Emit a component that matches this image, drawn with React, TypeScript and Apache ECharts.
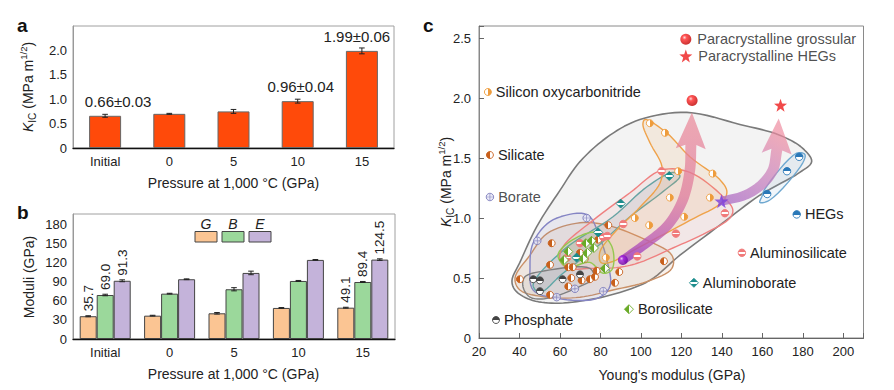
import React, { useEffect, useRef } from 'react';
import * as echarts from 'echarts';

// ---------- Panel a ----------
const pressureCats = ['Initial', '0', '5', '10', '15'];
const kicValues = [0.66, 0.7, 0.75, 0.96, 1.99];
const kicErrors = [0.03, 0.01, 0.04, 0.04, 0.06];
const kicLabels = ['0.66±0.03', '', '', '0.96±0.04', '1.99±0.06'];

// ---------- Panel b ----------
const shearG = [35.7, 36.6, 40.3, 48.7, 49.1];
const bulkB = [69.0, 71.1, 78.0, 91.0, 89.4];
const youngE = [91.3, 93.7, 103.6, 124.0, 124.5];
const errG = [0.8, 0.6, 1.2, 0.6, 0.7];
const errB = [1.2, 0.6, 2.5, 0.8, 0.8];
const errE = [1.5, 0.6, 2.8, 0.6, 1.2];
const labelsG = ['35.7', '', '', '', '49.1'];
const labelsB = ['69.0', '', '', '', '89.4'];
const labelsE = ['91.3', '', '', '', '124.5'];

// ---------- Panel c (Young's modulus GPa, K_IC) ----------
const silicate = [[40.2, 0.49], [55.9, 0.79], [55.1, 0.61], [64.1, 0.59], [66.3, 0.59], [65.6, 0.5], [64.1, 0.43], [55.1, 0.36], [69.9, 0.71], [72.3, 0.66], [70.7, 0.48], [74.8, 0.49], [77.3, 0.51], [78.1, 0.56], [83.9, 0.94], [78.9, 0.82], [87.2, 0.46], [89.3, 0.55], [111.4, 0.64]];
const siliconOxy = [[104.4, 1.79], [111.9, 1.71], [118.4, 1.39], [135.4, 1.37], [114.3, 1.17], [134.1, 1.17], [97.0, 1.0], [104.1, 0.94], [121.4, 1.01], [82.7, 0.67]];
const aluminosilicate = [[110.2, 1.39], [141.5, 1.04], [91.3, 0.95], [117.3, 0.87], [98.2, 0.68], [81.4, 0.84], [83.4, 0.85], [69.9, 0.79], [63.6, 0.67]];
const aluminoborate = [[114.0, 1.35], [90.0, 1.12], [78.9, 0.88], [68.2, 0.67]];
const borosilicate = [[64.1, 0.72], [72.8, 0.79], [75.6, 0.81], [76.8, 0.75], [73.5, 0.71], [71.5, 0.66], [82.2, 0.58], [62.0, 0.65]];
const phosphate = [[46.8, 0.49], [50.1, 0.48], [50.1, 0.39], [61.3, 0.49], [69.9, 0.53]];
const borate = [[48.8, 0.81], [73.2, 1.0], [58.4, 0.34], [67.4, 0.41], [81.4, 0.39]];
const hegs = [[162.4, 1.2], [172.2, 1.39], [178.2, 1.51]];
const grossular = [[125.3, 1.98]];
const hegStar = [[169.0, 1.94]];
const startSphere = [[91.1, 0.65]];
const startStar = [[139.8, 1.14]];

// label anchors (data space)
const anchorSiliconOxy = [24.4, 2.05];
const anchorSilicate = [25.4, 1.525];
const anchorBorate = [25.4, 1.175];
const anchorPhosphate = [28.4, 0.15];
const anchorBorosilicate = [94.1, 0.24];
const anchorAluminoborate = [126.2, 0.46];
const anchorAluminosilicate = [149.9, 0.71];
const anchorHEGs = [177.0, 1.03];
const anchorLegendGrossular = [122.2, 2.49];
const anchorLegendHEGStar = [122.2, 2.35];

// enclosing hulls (data space)
const hullAll = [[36.3, 0.48], [40.2, 0.63], [48.6, 0.93], [60.0, 1.23], [69.9, 1.47], [84.7, 1.69], [99.5, 1.82], [122.7, 1.88], [148.9, 1.78], [168.6, 1.69], [180.0, 1.58], [184.4, 1.47], [178.5, 1.38], [158.8, 1.19], [139.0, 0.94], [119.3, 0.69], [104.4, 0.48], [89.6, 0.38], [74.8, 0.32], [57.5, 0.29], [45.2, 0.32], [37.8, 0.4]];
const hullSilicate = [[37.8, 0.5], [45.2, 0.69], [53.6, 0.87], [69.9, 0.96], [83.2, 0.94], [99.5, 0.84], [115.3, 0.69], [115.3, 0.58], [103.0, 0.47], [86.2, 0.4], [69.9, 0.34], [53.6, 0.34], [40.2, 0.4]];
const hullBorate = [[46.7, 0.79], [55.1, 0.97], [69.9, 1.04], [74.8, 1.01], [78.8, 0.88], [83.2, 0.65], [84.7, 0.43], [78.3, 0.33], [58.5, 0.33], [46.7, 0.4], [45.2, 0.59]];
const hullAluminoborate = [[46.7, 0.44], [61.5, 0.73], [86.2, 1.01], [103.0, 1.26], [115.8, 1.38], [119.3, 1.35], [110.9, 1.22], [94.6, 1.01], [78.3, 0.76], [61.5, 0.54], [50.1, 0.38]];
const hullAluminosilicate = [[60.0, 0.65], [61.5, 0.76], [76.3, 0.98], [94.6, 1.21], [110.4, 1.4], [124.2, 1.38], [140.5, 1.18], [145.4, 1.07], [144.0, 1.0], [132.6, 0.88], [115.8, 0.75], [99.5, 0.63], [89.6, 0.59], [74.8, 0.58], [64.0, 0.58]];
const hullSiliconOxy = [[102.0, 1.82], [112.7, 1.71], [124.2, 1.51], [139.0, 1.32], [142.5, 1.22], [140.0, 1.13], [124.2, 0.98], [99.5, 0.76], [84.7, 0.63], [80.2, 0.63], [79.8, 0.72], [88.1, 0.9], [99.5, 1.09], [109.4, 1.29], [110.4, 1.43], [104.4, 1.63], [101.0, 1.78]];
const hullBorosilicate = [[59.0, 0.69], [66.4, 0.82], [78.8, 0.88], [85.7, 0.76], [85.7, 0.57], [81.2, 0.54], [74.8, 0.63], [63.5, 0.59]];
const hullPhosphate = [[42.7, 0.51], [52.6, 0.56], [74.8, 0.58], [76.8, 0.5], [69.9, 0.43], [53.6, 0.33], [45.2, 0.34], [41.7, 0.43]];
const hullHEGs = [[159.8, 1.18], [161.2, 1.24], [177.0, 1.54], [181.0, 1.53], [180.0, 1.46], [163.7, 1.15], [158.8, 1.13]];

// arrows (data space; last point is tip, the one before is head base)
const arrowGrossular = [[91.1, 0.65], [101.9, 0.78], [113.3, 0.94], [120.7, 1.15], [124.2, 1.4], [124.7, 1.61], [125.2, 1.88]];
const arrowHEG = [[140.0, 1.14], [151.4, 1.19], [159.8, 1.28], [165.2, 1.4], [167.2, 1.57], [168.1, 1.83]];

const FONT = '"Liberation Sans", Arial, sans-serif';
const TXT = '#222';

const hulls = [hullAll, hullSilicate, hullBorate, hullAluminoborate, hullAluminosilicate, hullSiliconOxy, hullBorosilicate, hullPhosphate, hullHEGs];
const hullStyles = [
  { fill: 'rgba(200,200,200,0.22)', stroke: '#7a7a7a', lw: 1.6 },
  { fill: 'rgba(205,150,100,0.13)', stroke: '#c99066', lw: 1.4 },
  { fill: 'rgba(130,130,200,0.10)', stroke: '#8585c4', lw: 1.4 },
  { fill: 'rgba(90,130,150,0.13)', stroke: '#58a8a8', lw: 1.4 },
  { fill: 'rgba(240,130,130,0.10)', stroke: '#ef8080', lw: 1.4 },
  { fill: 'rgba(240,165,80,0.13)', stroke: '#efa24a', lw: 1.4 },
  { fill: 'rgba(150,200,80,0.12)', stroke: '#95c850', lw: 1.4 },
  { fill: 'rgba(160,160,160,0.12)', stroke: '#808080', lw: 1.4 },
  { fill: 'rgba(120,170,210,0.12)', stroke: '#6fa8d0', lw: 1.4 },
];
const kicLabelOffsets = [[13, 0], [0, 0], [0, 0], [3, 0], [-5, 0]];

function fill(c: string, mode: string) {
  const W = '#ffffff';
  if (mode === 'left') return new echarts.graphic.LinearGradient(0, 0, 1, 0, [{ offset: 0, color: c }, { offset: 0.5, color: c }, { offset: 0.5, color: W }, { offset: 1, color: W }]);
  if (mode === 'right') return new echarts.graphic.LinearGradient(0, 0, 1, 0, [{ offset: 0, color: W }, { offset: 0.5, color: W }, { offset: 0.5, color: c }, { offset: 1, color: c }]);
  if (mode === 'top') return new echarts.graphic.LinearGradient(0, 0, 0, 1, [{ offset: 0, color: c }, { offset: 0.52, color: c }, { offset: 0.52, color: W }, { offset: 1, color: W }]);
  if (mode === 'stripe') return new echarts.graphic.LinearGradient(0, 0, 0, 1, [{ offset: 0, color: c }, { offset: 0.38, color: c }, { offset: 0.38, color: W }, { offset: 0.62, color: W }, { offset: 0.62, color: c }, { offset: 1, color: c }]);
  return c;
}

function starPath() {
  const pts: string[] = [];
  for (let k = 0; k < 10; k++) {
    const r = k % 2 === 0 ? 10 : 4;
    const a = -Math.PI / 2 + (k * Math.PI) / 5;
    pts.push(`${(10 + r * Math.cos(a)).toFixed(2)},${(10 + r * Math.sin(a)).toFixed(2)}`);
  }
  return 'path://M' + pts.join(' L') + ' Z';
}
const STAR = starPath();
const CROSS = 'path://M4.4,0 L5.6,0 L5.6,4.4 L10,4.4 L10,5.6 L5.6,5.6 L5.6,10 L4.4,10 L4.4,5.6 L0,5.6 L0,4.4 L4.4,4.4 Z';

// centripetal Catmull-Rom segment sampling
function crSegment(P0: number[], P1: number[], P2: number[], P3: number[], steps: number, out: number[][]) {
  const d = (a: number[], b: number[]) => Math.max(Math.pow(Math.hypot(b[0] - a[0], b[1] - a[1]), 0.5), 1e-4);
  const t0 = 0, t1 = t0 + d(P0, P1), t2 = t1 + d(P1, P2), t3 = t2 + d(P2, P3);
  const lerp = (A: number[], B: number[], ta: number, tb: number, t: number) => {
    const u = (t - ta) / (tb - ta);
    return [A[0] + (B[0] - A[0]) * u, A[1] + (B[1] - A[1]) * u];
  };
  for (let s = 0; s < steps; s++) {
    const t = t1 + ((t2 - t1) * s) / steps;
    const A1 = lerp(P0, P1, t0, t1, t), A2 = lerp(P1, P2, t1, t2, t), A3 = lerp(P2, P3, t2, t3, t);
    const B1 = lerp(A1, A2, t0, t2, t), B2 = lerp(A2, A3, t1, t3, t);
    out.push(lerp(B1, B2, t1, t2, t));
  }
}
function closedCurve(pts: number[][], steps: number) {
  const n = pts.length, out: number[][] = [];
  for (let i = 0; i < n; i++) crSegment(pts[(i - 1 + n) % n], pts[i], pts[(i + 1) % n], pts[(i + 2) % n], steps, out);
  return out;
}
function openCurve(pts: number[][], steps: number) {
  const n = pts.length, out: number[][] = [];
  for (let i = 0; i < n - 1; i++) {
    const p0 = i > 0 ? pts[i - 1] : [2 * pts[0][0] - pts[1][0], 2 * pts[0][1] - pts[1][1]];
    const p3 = i + 2 < n ? pts[i + 2] : [2 * pts[n - 1][0] - pts[n - 2][0], 2 * pts[n - 1][1] - pts[n - 2][1]];
    crSegment(p0, pts[i], pts[i + 1], p3, steps, out);
  }
  out.push(pts[n - 1]);
  return out;
}

function arrowPolygon(pix: number[][], w0: number, w1: number, hw: number) {
  const tip = pix[pix.length - 1];
  const c = openCurve(pix.slice(0, -1), 10);
  const n = c.length;
  const left: number[][] = [], right: number[][] = [];
  for (let i = 0; i < n; i++) {
    const a = c[Math.max(0, i - 1)], b = c[Math.min(n - 1, i + 1)];
    let dx = b[0] - a[0], dy = b[1] - a[1];
    const L = Math.hypot(dx, dy) || 1; dx /= L; dy /= L;
    const w = (w0 + ((w1 - w0) * i) / (n - 1)) / 2;
    left.push([c[i][0] - dy * w, c[i][1] + dx * w]);
    right.push([c[i][0] + dy * w, c[i][1] - dx * w]);
  }
  const base = c[n - 1];
  let dx = tip[0] - base[0], dy = tip[1] - base[1];
  const L = Math.hypot(dx, dy) || 1; dx /= L; dy /= L;
  const back = 4;
  const hl = [base[0] - dy * hw - dx * back, base[1] + dx * hw - dy * back];
  const hr = [base[0] + dy * hw - dx * back, base[1] - dx * hw - dy * back];
  return [...left, hl, tip, hr, ...right.reverse()];
}

function labelPoint(anchor: number[], text: string, dist: number) {
  return { value: anchor, label: { show: true, position: 'right', distance: dist, formatter: text, fontSize: 14.5, color: TXT, fontFamily: FONT } };
}

function scatterSeries(name: string, pts: number[][], anchor: number[] | null, color: string, mode: string, symbol: string, size: number) {
  const data: any[] = pts.map((p) => ({ value: p }));
  if (anchor) data.push(labelPoint(anchor, name, 4));
  return {
    type: 'scatter', name, xAxisIndex: 2, yAxisIndex: 2, data, symbol, symbolSize: size, silent: true,
    itemStyle: { color: fill(color, mode), borderColor: color, borderWidth: 0.9, opacity: 1 },
    z: 5,
  };
}

function errorSeries(xi: number, yi: number, vals: number[], errs: number[], offset: number) {
  return {
    type: 'custom', xAxisIndex: xi, yAxisIndex: yi, silent: true, z: 4,
    data: vals.map((v, i) => [i, v, errs[i]]),
    renderItem: (params: any, api: any) => {
      const x = api.value(0), v = api.value(1), e = api.value(2);
      const t = api.coord([x, v + e]);
      const b = api.coord([x, v - e]);
      const cx = t[0] + offset;
      const st = { stroke: '#222', lineWidth: 1 };
      return {
        type: 'group', children: [
          { type: 'line', shape: { x1: cx, y1: t[1], x2: cx, y2: b[1] }, style: st },
          { type: 'line', shape: { x1: cx - 2.8, y1: t[1], x2: cx + 2.8, y2: t[1] }, style: st },
          { type: 'line', shape: { x1: cx - 2.8, y1: b[1], x2: cx + 2.8, y2: b[1] }, style: st },
        ],
      };
    },
  };
}

function kicRich(size: number) {
  return {
    text: '{k|K}{s|IC} (MPa m{p|1/2})',
    fontSize: size, fontFamily: FONT, fill: TXT, lineHeight: 19, align: 'center', verticalAlign: 'middle',
    rich: {
      k: { fontStyle: 'italic', fontSize: size, fontFamily: FONT, lineHeight: 19, verticalAlign: 'middle', fill: TXT },
      s: { fontSize: size * 0.72, fontFamily: FONT, lineHeight: 19, verticalAlign: 'bottom', fill: TXT },
      p: { fontSize: size * 0.68, fontFamily: FONT, lineHeight: 19, verticalAlign: 'top', fill: TXT },
    },
  };
}

function buildOption() {
  const fmtA = (v: number) => (v === 0 ? '0' : v > 2.01 ? '' : v.toFixed(1));
  const fmtB = (v: number) => (v % 30 === 0 && v <= 180 ? String(v) : '');
  const fmtCx = (v: number) => (v % 20 === 0 && v <= 200 ? String(v) : '');
  const fmtCy = (v: number) => {
    if (v === 0) return '0';
    const d = v * 2;
    return Math.abs(d - Math.round(d)) < 1e-6 && v <= 2.5 ? v.toFixed(1) : '';
  };
  const catAxis = (gi: number) => ({
    type: 'category', gridIndex: gi, data: pressureCats,
    axisLine: { lineStyle: { color: '#111', width: 1.3 } },
    axisTick: { show: true, inside: true, alignWithLabel: true, length: 3, lineStyle: { color: '#444' } },
    axisLabel: { fontSize: 13, color: TXT, fontFamily: FONT, margin: 7 },
  });
  const valAxisStyle = {
    axisLine: { show: true, lineStyle: { color: '#999' } },
    axisTick: { show: false },
    splitLine: { show: false },
  };

  const arrowDefs = [
    { path: arrowGrossular, grad: [0, 1, 0, 0], stops: [[0, 'rgba(150,55,195,0.85)'], [0.18, 'rgba(190,95,180,0.78)'], [0.45, 'rgba(222,120,155,0.72)'], [1, 'rgba(235,135,150,0.7)']] },
    { path: arrowHEG, grad: [0, 1, 0.5, 0], stops: [[0, 'rgba(170,110,200,0.8)'], [0.5, 'rgba(200,130,190,0.74)'], [1, 'rgba(238,140,160,0.7)']] },
  ];

  const kicData = kicValues.map((v, i) => ({ value: v, label: { offset: kicLabelOffsets[i] } }));

  return {
    animation: false,
    textStyle: { fontFamily: FONT },
    grid: [
      { left: 73, top: 26, width: 321, height: 122, show: true, borderColor: '#a0a0a0', borderWidth: 1 },
      { left: 73, top: 214, width: 322, height: 125, show: true, borderColor: '#a0a0a0', borderWidth: 1 },
      { left: 479, top: 26, width: 384.5, height: 312, show: true, borderColor: '#8a8a8a', borderWidth: 1 },
    ],
    xAxis: [
      catAxis(0),
      catAxis(1),
      {
        type: 'value', gridIndex: 2, min: 20, max: 210, interval: 20,
        axisLine: { lineStyle: { color: '#666', width: 1.2 } },
        axisTick: { show: true, inside: true, length: 5, lineStyle: { color: '#666' } },
        axisLabel: { fontSize: 13, color: TXT, fontFamily: FONT, margin: 7, formatter: fmtCx, showMaxLabel: true },
        splitLine: { show: false },
      },
    ],
    yAxis: [
      { type: 'value', gridIndex: 0, min: 0, max: 2.5, interval: 0.5, ...valAxisStyle, axisLabel: { fontSize: 13, color: TXT, fontFamily: FONT, margin: 6, formatter: fmtA } },
      { type: 'value', gridIndex: 1, min: 0, max: 196, interval: 30, ...valAxisStyle, axisLabel: { fontSize: 13, color: TXT, fontFamily: FONT, margin: 6, formatter: fmtB } },
      {
        type: 'value', gridIndex: 2, min: 0, max: 2.6, interval: 0.5,
        axisLine: { show: true, lineStyle: { color: '#888' } },
        axisTick: { show: true, inside: true, length: 5, lineStyle: { color: '#666' } },
        splitLine: { show: false },
        axisLabel: { fontSize: 13, color: TXT, fontFamily: FONT, margin: 8, formatter: fmtCy },
      },
    ],
    series: [
      // panel a
      {
        type: 'bar', xAxisIndex: 0, yAxisIndex: 0, data: kicData, barWidth: 32, silent: true,
        itemStyle: { color: '#ff4a0a', borderColor: '#666', borderWidth: 1 },
        label: { show: true, position: 'top', distance: 7, fontSize: 15, color: TXT, fontFamily: FONT, formatter: (p: any) => kicLabels[p.dataIndex] },
      },
      errorSeries(0, 0, kicValues, kicErrors, 0),
      // panel b
      {
        type: 'bar', name: 'G', xAxisIndex: 1, yAxisIndex: 1, data: shearG, barWidth: 17, barGap: '0%', silent: true,
        itemStyle: { color: '#fbc593', borderColor: '#444', borderWidth: 1 },
        label: { show: true, position: 'top', rotate: 90, align: 'left', verticalAlign: 'middle', distance: 5, fontSize: 13.5, color: TXT, fontFamily: FONT, formatter: (p: any) => labelsG[p.dataIndex] },
      },
      {
        type: 'bar', name: 'B', xAxisIndex: 1, yAxisIndex: 1, data: bulkB, barWidth: 17, barGap: '0%', silent: true,
        itemStyle: { color: '#9bd89b', borderColor: '#444', borderWidth: 1 },
        label: { show: true, position: 'top', rotate: 90, align: 'left', verticalAlign: 'middle', distance: 5, fontSize: 13.5, color: TXT, fontFamily: FONT, formatter: (p: any) => labelsB[p.dataIndex] },
      },
      {
        type: 'bar', name: 'E', xAxisIndex: 1, yAxisIndex: 1, data: youngE, barWidth: 17, barGap: '0%', silent: true,
        itemStyle: { color: '#c4b3da', borderColor: '#444', borderWidth: 1 },
        label: { show: true, position: 'top', rotate: 90, align: 'left', verticalAlign: 'middle', distance: 5, fontSize: 13.5, color: TXT, fontFamily: FONT, formatter: (p: any) => labelsE[p.dataIndex] },
      },
      errorSeries(1, 1, shearG, errG, -17),
      errorSeries(1, 1, bulkB, errB, 0),
      errorSeries(1, 1, youngE, errE, 17),
      // panel c hulls
      {
        type: 'custom', xAxisIndex: 2, yAxisIndex: 2, silent: true, z: 2, clip: false,
        data: hulls.map((h, i) => [h[0][0], h[0][1], i]),
        renderItem: (params: any, api: any) => {
          const i = api.value(2);
          const st = hullStyles[i];
          const pts = closedCurve(hulls[i].map((p) => api.coord(p)), 8);
          return { type: 'polygon', shape: { points: pts }, style: { fill: st.fill, stroke: st.stroke, lineWidth: st.lw, lineJoin: 'round' } };
        },
      },
      // arrows
      {
        type: 'custom', xAxisIndex: 2, yAxisIndex: 2, silent: true, z: 3, clip: false,
        data: arrowDefs.map((a, i) => [a.path[0][0], a.path[0][1], i]),
        renderItem: (params: any, api: any) => {
          const i = api.value(2);
          const a = arrowDefs[i];
          const pix = a.path.map((p) => api.coord(p));
          const poly = arrowPolygon(pix, 9, 11, 15);
          return {
            type: 'polygon', shape: { points: poly },
            style: { fill: new echarts.graphic.LinearGradient(a.grad[0], a.grad[1], a.grad[2], a.grad[3], a.stops.map((s) => ({ offset: s[0] as number, color: s[1] as string }))) },
          };
        },
      },
      // points
      scatterSeries('Silicate', silicate, anchorSilicate, '#c8601c', 'left', 'circle', 7),
      scatterSeries('Silicon oxycarbonitride', siliconOxy, anchorSiliconOxy, '#ee9c3c', 'right', 'circle', 7),
      scatterSeries('Aluminosilicate', aluminosilicate, anchorAluminosilicate, '#f07a7a', 'stripe', 'circle', 7.5),
      scatterSeries('Aluminoborate', aluminoborate, anchorAluminoborate, '#1c8c8c', 'stripe', 'diamond', 9),
      scatterSeries('Borosilicate', borosilicate, anchorBorosilicate, '#6aaa28', 'left', 'diamond', 9),
      scatterSeries('Phosphate', phosphate, anchorPhosphate, '#444444', 'top', 'circle', 7),
      scatterSeries('HEGs', hegs, anchorHEGs, '#2a78b8', 'top', 'circle', 7.5),
      {
        type: 'scatter', xAxisIndex: 2, yAxisIndex: 2, silent: true, z: 5, symbolSize: 7.5,
        data: [...borate.map((p) => ({ value: p })), labelPoint(anchorBorate, 'Borate', 4)],
        itemStyle: { color: '#e6e6f6', borderColor: '#7070b4', borderWidth: 1 },
      },
      {
        type: 'scatter', xAxisIndex: 2, yAxisIndex: 2, silent: true, z: 6, symbol: CROSS, symbolSize: 6,
        data: [...borate, anchorBorate],
        itemStyle: { color: '#7070b4' },
      },
      {
        type: 'scatter', xAxisIndex: 2, yAxisIndex: 2, silent: true, z: 6, symbolSize: 11,
        data: [...grossular.map((p) => ({ value: p })), labelPoint(anchorLegendGrossular, 'Paracrystalline grossular', 6)],
        itemStyle: { color: new echarts.graphic.RadialGradient(0.38, 0.35, 0.65, [{ offset: 0, color: '#ffd0d0' }, { offset: 0.3, color: '#ff2a2a' }, { offset: 1, color: '#c00000' }]) },
      },
      {
        type: 'scatter', xAxisIndex: 2, yAxisIndex: 2, silent: true, z: 6, symbol: STAR, symbolSize: 13,
        data: [...hegStar.map((p) => ({ value: p })), labelPoint(anchorLegendHEGStar, 'Paracrystalline HEGs', 6)],
        itemStyle: { color: '#ee1c1c' },
      },
      {
        type: 'scatter', xAxisIndex: 2, yAxisIndex: 2, silent: true, z: 6, symbolSize: 10,
        data: startSphere,
        itemStyle: { color: new echarts.graphic.RadialGradient(0.38, 0.35, 0.65, [{ offset: 0, color: '#f0c8ff' }, { offset: 0.3, color: '#a020e0' }, { offset: 1, color: '#6a00a0' }]) },
      },
      {
        type: 'scatter', xAxisIndex: 2, yAxisIndex: 2, silent: true, z: 6, symbol: STAR, symbolSize: 14,
        data: startStar,
        itemStyle: { color: '#7a3cdc' },
      },
    ],
    graphic: [
      { type: 'text', x: 17, y: 25, style: { text: 'a', fontSize: 19, fontWeight: 'bold', fontFamily: FONT, fill: '#111', verticalAlign: 'middle' } },
      { type: 'text', x: 17, y: 212, style: { text: 'b', fontSize: 19, fontWeight: 'bold', fontFamily: FONT, fill: '#111', verticalAlign: 'middle' } },
      { type: 'text', x: 423, y: 25, style: { text: 'c', fontSize: 19, fontWeight: 'bold', fontFamily: FONT, fill: '#111', verticalAlign: 'middle' } },
      { type: 'text', x: 233.5, y: 183, style: { text: 'Pressure at 1,000 °C (GPa)', fontSize: 14, fontFamily: FONT, fill: TXT, align: 'center', verticalAlign: 'middle' } },
      { type: 'text', x: 233.5, y: 374, style: { text: 'Pressure at 1,000 °C (GPa)', fontSize: 14, fontFamily: FONT, fill: TXT, align: 'center', verticalAlign: 'middle' } },
      { type: 'text', x: 672, y: 375, style: { text: "Young's modulus (GPa)", fontSize: 14, fontFamily: FONT, fill: TXT, align: 'center', verticalAlign: 'middle' } },
      { type: 'text', x: 28, y: 87, rotation: Math.PI / 2, style: kicRich(14) },
      { type: 'text', x: 446, y: 182, rotation: Math.PI / 2, style: kicRich(14) },
      { type: 'text', x: 29, y: 277, rotation: Math.PI / 2, style: { text: 'Moduli (GPa)', fontSize: 14, fontFamily: FONT, fill: TXT, align: 'center', verticalAlign: 'middle' } },
      // panel b legend
      { type: 'text', x: 206, y: 224, style: { text: 'G', fontSize: 14, fontStyle: 'italic', fontFamily: FONT, fill: TXT, align: 'center', verticalAlign: 'middle' } },
      { type: 'text', x: 233, y: 224, style: { text: 'B', fontSize: 14, fontStyle: 'italic', fontFamily: FONT, fill: TXT, align: 'center', verticalAlign: 'middle' } },
      { type: 'text', x: 260, y: 224, style: { text: 'E', fontSize: 14, fontStyle: 'italic', fontFamily: FONT, fill: TXT, align: 'center', verticalAlign: 'middle' } },
      { type: 'rect', shape: { x: 195, y: 231.5, width: 22, height: 10.5 }, style: { fill: '#fbc593', stroke: '#444', lineWidth: 1 } },
      { type: 'rect', shape: { x: 222, y: 231.5, width: 22, height: 10.5 }, style: { fill: '#9bd89b', stroke: '#444', lineWidth: 1 } },
      { type: 'rect', shape: { x: 249, y: 231.5, width: 22, height: 10.5 }, style: { fill: '#c4b3da', stroke: '#444', lineWidth: 1 } },
    ],
  };
}

export default function App() {
  const ref = useRef<HTMLDivElement>(null);
  useEffect(() => {
    document.body.style.margin = '0';
    const chart = echarts.init(ref.current as HTMLDivElement, null, { renderer: 'svg' });
    chart.setOption(buildOption() as any);
    return () => chart.dispose();
  }, []);
  return <div ref={ref} style={{ width: 894, height: 390, background: '#fff' }} />;
}
